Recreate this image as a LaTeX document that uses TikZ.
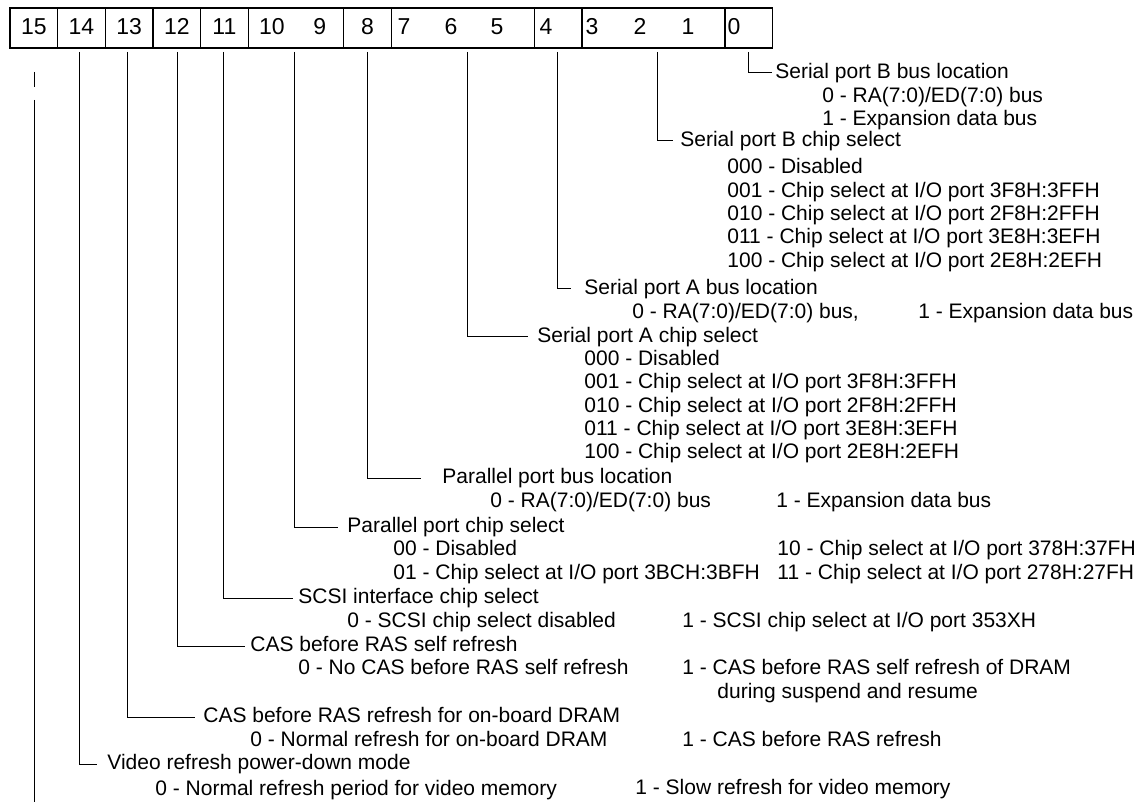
\documentclass[tikz,border=0pt]{standalone}
\usepackage{fontspec}
\setmainfont{Liberation Sans}
\usepackage{tikz}

\begin{document}
\begin{tikzpicture}[
  x=0.5pt, y=-0.5pt,
  regline/.style={draw=black, line width=0.7pt},
  bitnum/.style={anchor=mid, inner sep=0pt, font=\fontsize{11.5}{13}\selectfont},
  txt/.style={anchor=mid west, inner sep=0pt, font=\fontsize{10.5}{12}\selectfont},
  leader/.style={draw=black, line width=0.5pt}
]
\useasboundingbox (0,0) rectangle (1141,802);

% register box
\draw[regline] (10,8) rectangle (772.4,48);
\draw[regline] (57.7,8) -- (57.7,48);
\draw[regline] (105.3,8) -- (105.3,48);
\draw[regline] (153,8) -- (153,48);
\draw[regline] (200.6,8) -- (200.6,48);
\draw[regline] (248.3,8) -- (248.3,48);
\draw[regline] (343.6,8) -- (343.6,48);
\draw[regline] (391.2,8) -- (391.2,48);
\draw[regline] (534.2,8) -- (534.2,48);
\draw[regline] (581.8,8) -- (581.8,48);
\draw[regline] (724.8,8) -- (724.8,48);

\node[bitnum] (n15) at (33.8,29) {15};
\node[bitnum] (n14) at (81.5,29) {14};
\node[bitnum] (n13) at (129.1,29) {13};
\node[bitnum] (n12) at (176.8,29) {12};
\node[bitnum] (n11) at (224.4,29) {11};
\node[bitnum] (n10) at (272,29) {10};
\node[bitnum] (n9) at (319.7,29) {9};
\node[bitnum] (n8) at (367.4,29) {8};
\node[bitnum] (n7) at (404,29) {7};
\node[bitnum] (n6) at (451,29) {6};
\node[bitnum] (n5) at (497,29) {5};
\node[bitnum] (n4) at (546,29) {4};
\node[bitnum] (n3) at (592,29) {3};
\node[bitnum] (n2) at (640,29) {2};
\node[bitnum] (n1) at (688,29) {1};
\node[bitnum] (n0) at (734,29) {0};

% leader start points under the box
\coordinate (c15) at (34,72);
\coordinate (c15end) at (34,802);
\coordinate (c14) at (79,52);
\coordinate (c13) at (127,52);
\coordinate (c12) at (177,52);
\coordinate (c11) at (223,52);
\coordinate (c10) at (294,52);
\coordinate (c8) at (367.5,52);
\coordinate (c7) at (467.5,52);
\coordinate (c4) at (557.7,52);
\coordinate (c3) at (657.7,52);
\coordinate (c0) at (748,52);

% bit 0
\node[txt] (h0) at (775,73) {Serial port B bus location};
\node[txt] (h0a) at (822,97) {0 - RA(7:0)/ED(7:0) bus};
\node[txt] (h0b) at (822,120) {1 - Expansion data bus};

% bits 3-1
\node[txt] (h3) at (680,141) {Serial port B chip select};
\node[txt] (h3a) at (727,168) {000 - Disabled};
\node[txt] (h3b) at (727,192) {001 - Chip select at I/O port 3F8H:3FFH};
\node[txt] (h3c) at (727,215) {010 - Chip select at I/O port 2F8H:2FFH};
\node[txt] (h3d) at (727,238) {011 - Chip select at I/O port 3E8H:3EFH};
\node[txt] (h3e) at (727,262) {100 - Chip select at I/O port 2E8H:2EFH};

% bit 4
\node[txt] (h4) at (584,289) {Serial port A bus location};
\node[txt] (h4a) at (632,313) {0 - RA(7:0)/ED(7:0) bus,};
\node[txt] (h4b) at (918,313) {1 - Expansion data bus};

% bits 7-5
\node[txt] (h7) at (537,337) {Serial port A chip select};
\node[txt] (h7a) at (584,360) {000 - Disabled};
\node[txt] (h7b) at (584,383) {001 - Chip select at I/O port 3F8H:3FFH};
\node[txt] (h7c) at (584,407) {010 - Chip select at I/O port 2F8H:2FFH};
\node[txt] (h7d) at (584,430) {011 - Chip select at I/O port 3E8H:3EFH};
\node[txt] (h7e) at (584,453) {100 - Chip select at I/O port 2E8H:2EFH};

% bit 8
\node[txt] (h8) at (442,478) {Parallel port bus location};
\node[txt] (h8a) at (490,502) {0 - RA(7:0)/ED(7:0) bus};
\node[txt] (h8b) at (776,502) {1 - Expansion data bus};

% bits 10-9
\node[txt] (h10) at (347,527) {Parallel port chip select};
\node[txt] (h10a) at (393,550) {00 - Disabled};
\node[txt] (h10b) at (393,574) {01 - Chip select at I/O port 3BCH:3BFH};
\node[txt] (h10c) at (777,550) {10 - Chip select at I/O port 378H:37FH};
\node[txt] (h10d) at (777,574) {11 - Chip select at I/O port 278H:27FH};

% bit 11
\node[txt] (h11) at (298,598) {SCSI interface chip select};
\node[txt] (h11a) at (347,622) {0 - SCSI chip select disabled};
\node[txt] (h11b) at (682,622) {1 - SCSI chip select at I/O port 353XH};

% bit 12
\node[txt] (h12) at (250,646) {CAS before RAS self refresh};
\node[txt] (h12a) at (298,669) {0 - No CAS before RAS self refresh};
\node[txt] (h12b) at (682,669) {1 - CAS before RAS self refresh of DRAM};
\node[txt] (h12c) at (717,693) {during suspend and resume};

% bit 13
\node[txt] (h13) at (203,717) {CAS before RAS refresh for on-board DRAM};
\node[txt] (h13a) at (250,741) {0 - Normal refresh for on-board DRAM};
\node[txt] (h13b) at (682,741) {1 - CAS before RAS refresh};

% bit 14
\node[txt] (h14) at (107,764) {Video refresh power-down mode};
\node[txt] (h14a) at (155,790) {0 - Normal refresh period for video memory};
\node[txt] (h14b) at (635,789) {1 - Slow refresh for video memory};

% leaders
\draw[leader, dash pattern=on 7.5pt off 6.5pt on 400pt off 0pt] (c15) -- (c15end);
\draw[leader, shorten >=5pt] (c14) |- (h14.mid west);
\draw[leader, shorten >=4pt] (c13) |- (h13.mid west);
\draw[leader, shorten >=2.5pt] (c12) |- (h12.mid west);
\draw[leader, shorten >=2.5pt] (c11) |- (h11.mid west);
\draw[leader, shorten >=4.5pt] (c10) |- (h10.mid west);
\draw[leader, shorten >=10.5pt] (c8) |- (h8.mid west);
\draw[leader, shorten >=4.5pt] (c7) |- (h7.mid west);
\draw[leader, shorten >=6.5pt] (c4) |- (h4.mid west);
\draw[leader, shorten >=3.5pt] (c3) |- (h3.mid west);
\draw[leader, shorten >=1.5pt] (c0) |- (h0.mid west);
\end{tikzpicture}
\end{document}
